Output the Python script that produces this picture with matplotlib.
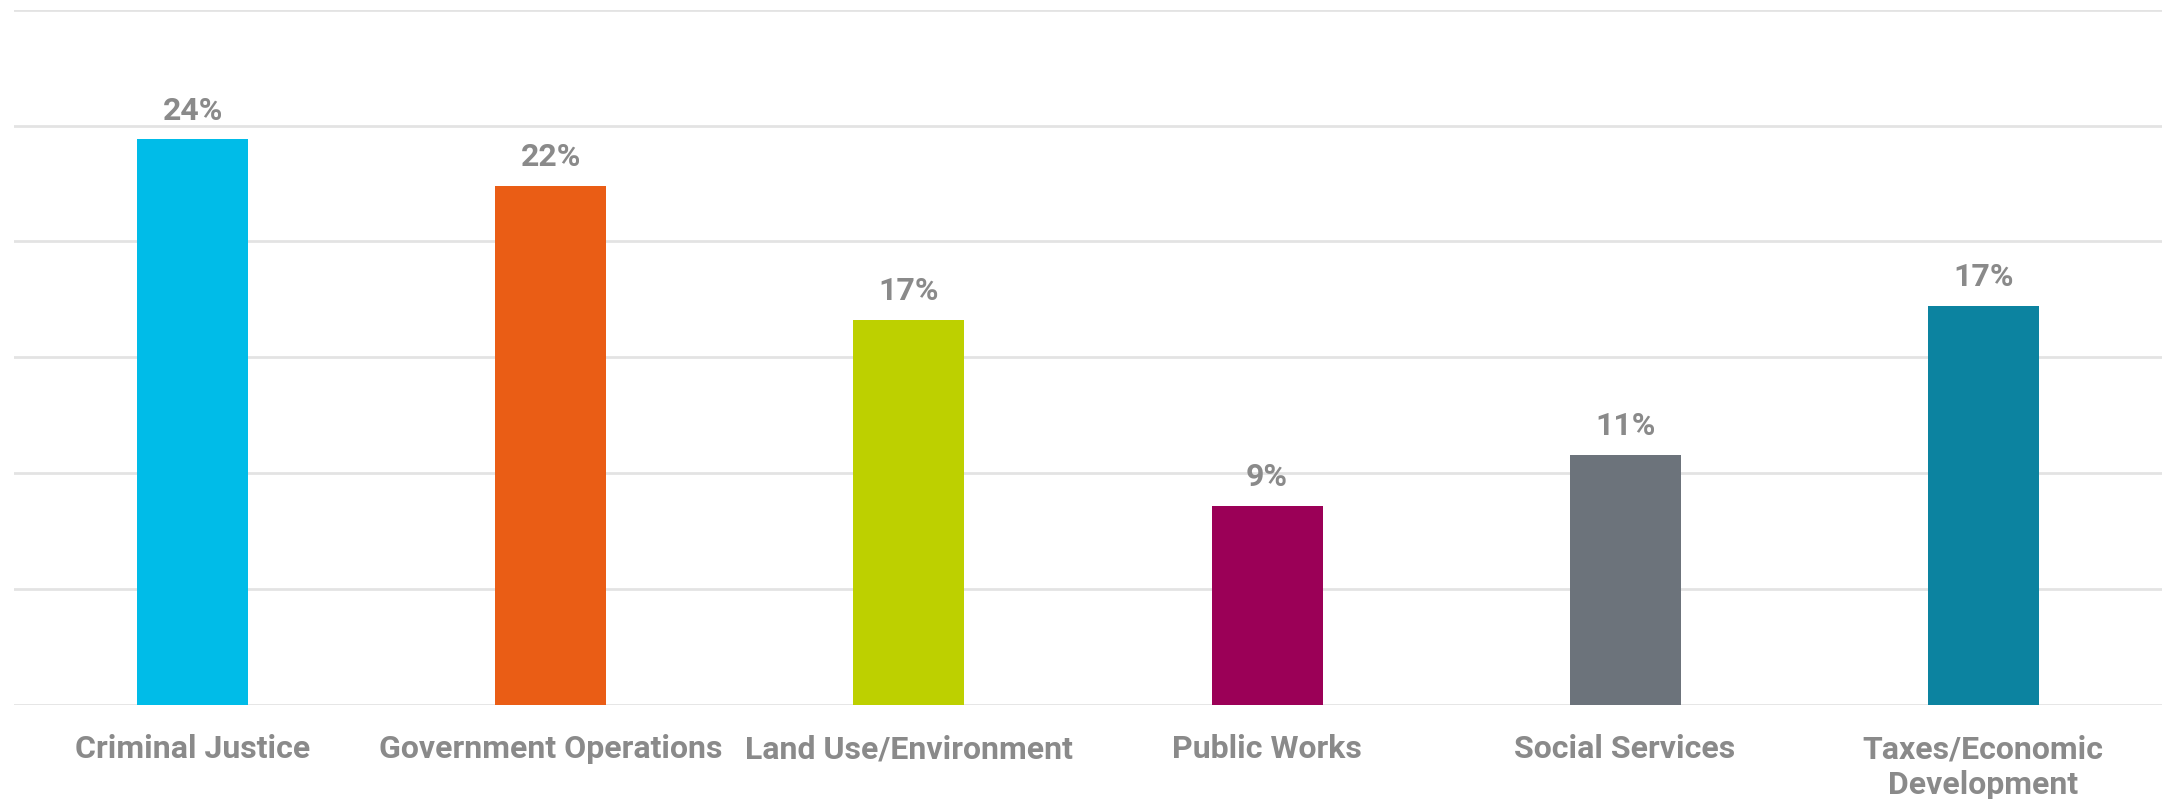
import matplotlib.pyplot as plt

# Data
categories = ["Criminal Justice", "Government Operations", "Land Use/Environment",
              "Public Works", "Social Services", "Taxes/Economic\nDevelopment"]
values = [24.4, 22.4, 16.6, 8.6, 10.8, 17.2]
colors = ["#00BCE8", "#EA5D15", "#BDD000", "#9B0057", "#6C737B", "#0C83A0"]

text_grey = "#8A8A8A"
grid_grey = "#E3E3E3"

plt.rcParams['font.family'] = ['Roboto', 'DejaVu Sans']

fig = plt.figure(figsize=(21.65, 7.99), dpi=100)
ax = fig.add_axes([0.0064, 0.1176, 0.9923, 0.8703])

x = range(len(categories))
bars = ax.bar(x, values, width=0.31, color=colors, zorder=3)

# value labels above bars
for b, v in zip(bars, values):
    ax.annotate(f"{round(v)}%", (b.get_x() + b.get_width() / 2, v),
                xytext=(0, 10), textcoords="offset points",
                ha="center", va="bottom", fontsize=23, fontweight="bold",
                color=text_grey)

ax.set_xlim(-0.5, 5.5)
ax.set_ylim(0, 30)
ax.set_yticks(range(0, 31, 5))
ax.set_yticklabels([])
ax.grid(axis="y", color=grid_grey, linewidth=2, zorder=0)

ax.set_xticks(list(x))
ax.set_xticklabels(categories, fontsize=23, fontweight="bold", color=text_grey,
                   linespacing=1.25)
ax.tick_params(axis="x", length=0, pad=21)
ax.tick_params(axis="y", length=0)

for s in ax.spines.values():
    s.set_visible(False)

fig.savefig("out.png", dpi=100)
